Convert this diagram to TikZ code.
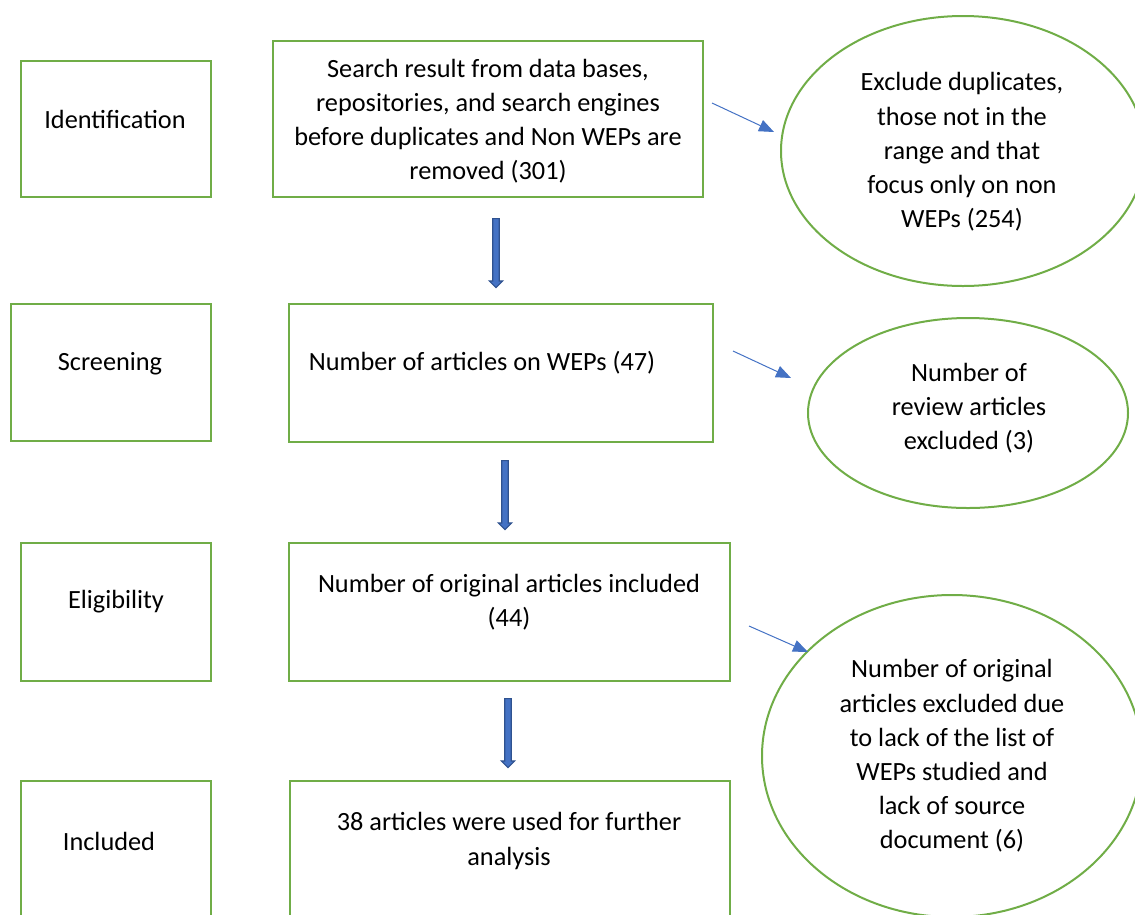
\documentclass[tikz,border=0pt]{standalone}
\usepackage{fontspec}
\setmainfont{Carlito}
\usetikzlibrary{arrows.meta,shapes.arrows,shapes.geometric}
\definecolor{grn}{HTML}{70AD47}
\definecolor{blu}{HTML}{4472C4}
\definecolor{navy}{HTML}{2F528F}
\begin{document}
\begin{tikzpicture}[x=1pt,y=-1pt,
  box/.style={draw=grn, line width=2pt, rectangle, inner sep=0pt},
  oval/.style={draw=grn, line width=2pt, ellipse, inner sep=0pt},
  txt/.style={align=center, inner sep=0pt, font=\fontsize{26.3pt}{34.2pt}\selectfont},
  thinarrow/.style={draw=blu, line width=1pt, -{Triangle[length=15pt,width=12pt]}},
  blockarrow/.style={single arrow, rotate=-90, fill=blu, draw=navy, line width=1.2pt,
    inner sep=2.6pt, single arrow head extend=3.5pt, minimum height=69pt}
]
\useasboundingbox (0,0) rectangle (1135,914);
\clip (0,0) rectangle (1135,914);

% left stage boxes
\node[box, minimum width=190pt, minimum height=136pt] (idbox) at (116,129) {};
\node[box, minimum width=200pt, minimum height=137pt] (scrbox) at (111,372.5) {};
\node[box, minimum width=190pt, minimum height=138pt] (eligbox) at (116,612) {};
\node[box, minimum width=190pt, minimum height=159pt] (inclbox) at (116,860.5) {};
\node[txt] (idt) at (115,119) {Identification};
\node[txt] (scrt) at (110,364) {Screening};
\node[txt] (eligt) at (116,602) {Eligibility};
\node[txt] (inclt) at (109,841) {Included};

% middle boxes
\node[box, minimum width=430pt, minimum height=156pt] (srch) at (488,119) {};
\node[box, minimum width=424pt, minimum height=138pt] (nbox) at (501,373) {};
\node[box, minimum width=441pt, minimum height=138pt] (obox) at (509.5,612) {};
\node[box, minimum width=440pt, minimum height=159pt] (fbox) at (510,860.5) {};
\node[txt] (srcht) at (488,121) {Search result from data bases,\\repositories, and search engines\\before duplicates and Non WEPs are\\removed (301)};
\node[txt] (nt) at (482,363) {Number of articles on WEPs (47)};
\node[txt] (ot) at (509,602) {Number of original articles included\\(44)};
\node[txt] (ft) at (509,841) {38 articles were used for further\\analysis};

% ellipses
\node[oval, minimum width=364pt, minimum height=270pt] (e1) at (963,151) {};
\node[oval, minimum width=320pt, minimum height=190pt] (e2) at (968,413) {};
\node[oval, minimum width=380pt, minimum height=322pt] (e3) at (952,756) {};
\node[txt] (e1t) at (962,152) {Exclude duplicates,\\those not in the\\range and that\\focus only on non\\WEPs (254)};
\node[txt] (e2t) at (969,408) {Number of\\review articles\\excluded (3)};
\node[txt] (e3t) at (952,756) {Number of original\\articles excluded due\\to lack of the list of\\WEPs studied and\\lack of source\\document (6)};

% block arrows
\node[blockarrow] (a1) at (496,251.5) {};
\node[blockarrow] (a2) at (505,493.5) {};
\node[blockarrow] (a3) at (508,731.5) {};

% thin arrows
\coordinate (t1s) at (712,103);
\coordinate (t1e) at (774,132);
\coordinate (t2s) at (733,351);
\coordinate (t2e) at (791,378);
\coordinate (t3s) at (749,626);
\coordinate (t3e) at (808,652);
\draw[thinarrow] (t1s) -- (t1e);
\draw[thinarrow] (t2s) -- (t2e);
\draw[thinarrow] (t3s) -- (t3e);
\end{tikzpicture}
\end{document}
